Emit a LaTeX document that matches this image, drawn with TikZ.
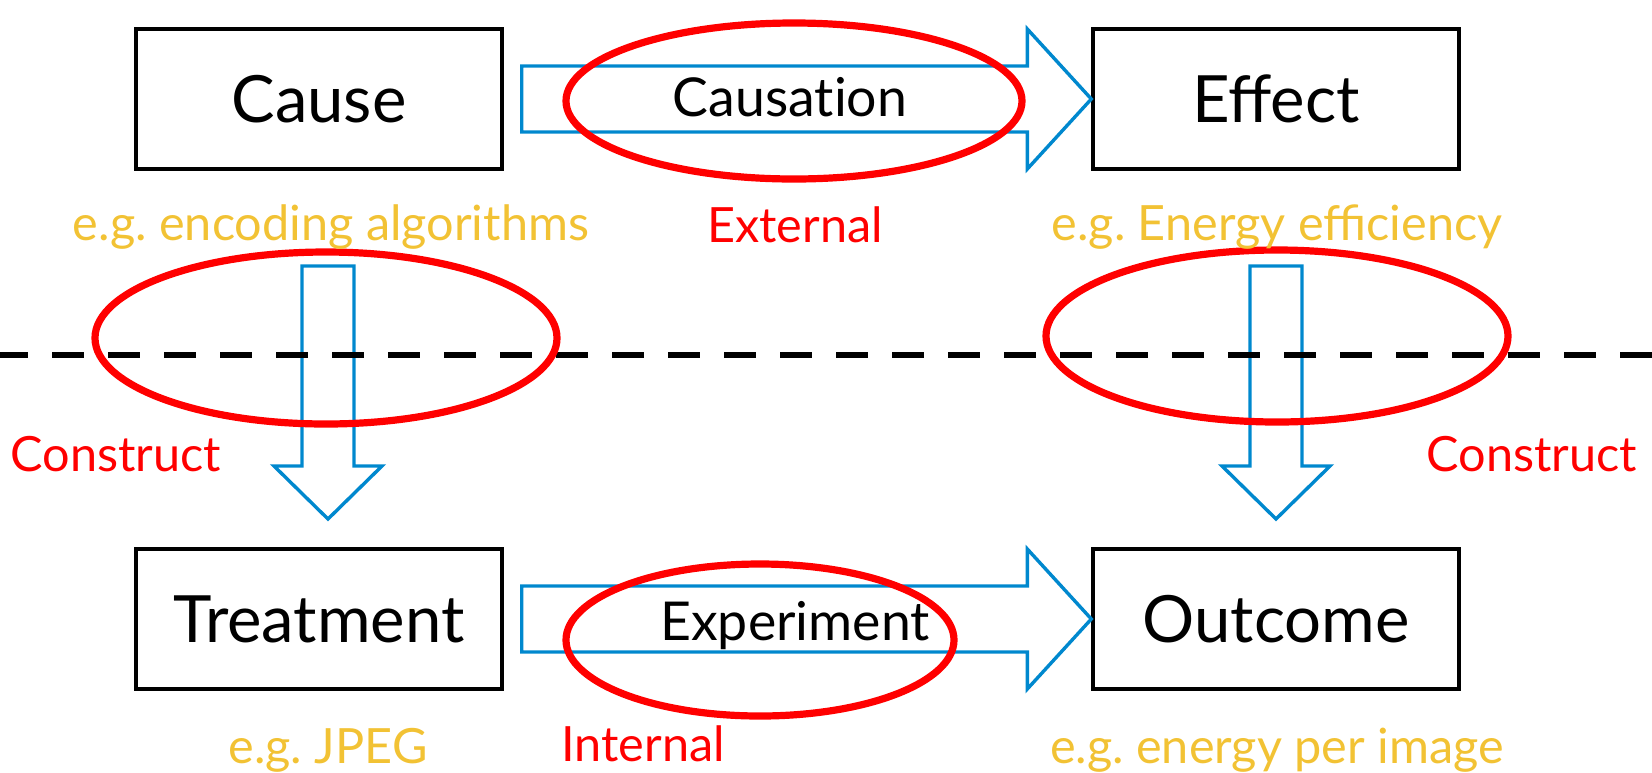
\documentclass[tikz,border=0pt]{standalone}
\usepackage{fontspec}
\setmainfont{Lato}
\frenchspacing
\usetikzlibrary{calc,shapes.geometric}
\definecolor{arrowblue}{RGB}{0,136,206}
\definecolor{egold}{RGB}{242,194,52}
\definecolor{ered}{RGB}{255,0,0}
\newcommand\hblockarrow[2]{\draw[blockarrow] let \p1=(#1), \p2=(#2) in
  (\x1,\y1+16.5pt) -- (\x2-32pt,\y1+16.5pt) -- (\x2-32pt,\y1+35pt) -- (\x2,\y1)
  -- (\x2-32pt,\y1-35pt) -- (\x2-32pt,\y1-16.5pt) -- (\x1,\y1-16.5pt) -- cycle;}
\newcommand\vblockarrow[2]{\draw[blockarrow] let \p1=(#1), \p2=(#2) in
  (\x1-13pt,\y1) -- (\x1+13pt,\y1) -- (\x1+13pt,\y2+26.5pt) -- (\x1+27pt,\y2+26.5pt)
  -- (\x1,\y2) -- (\x1-27pt,\y2+26.5pt) -- (\x1-13pt,\y2+26.5pt) -- cycle;}
\begin{document}
\begin{tikzpicture}[x=0.5pt,y=-0.5pt,
  box/.style={draw=black, line width=1.7pt, minimum width=183pt, minimum height=70pt,
    inner sep=0pt, font=\fontsize{32.6}{37}\selectfont},
  eg/.style={text=egold, inner sep=0pt, anchor=base, font=\fontsize{24.3}{29}\selectfont},
  validity/.style={text=ered, inner sep=0pt, anchor=base, font=\fontsize{24.3}{29}\selectfont},
  arrowtext/.style={text=black, inner sep=0pt, anchor=base, font=\fontsize{26.8}{31}\selectfont},
  blockarrow/.style={draw=arrowblue, line width=1.7pt, line join=miter},
  ring/.style={draw=ered, line width=3.6pt, ellipse, inner sep=0pt},
  divider/.style={draw=black, line width=3pt, dash pattern=on 16pt off 12pt},
]
\useasboundingbox (0,0) rectangle (1652,772);

% boxes
\node[box] (cause)   at (319,99)  {Cause};
\node[box] (effect)  at (1276,99) {Effect};
\node[box] (treat)   at (319,619) {Treatment};
\node[box] (outcome) at (1276,619) {Outcome};

% arrow end points
\coordinate (h1s) at ($(cause.east)+(18,0)$);
\coordinate (h2s) at ($(treat.east)+(18,0)$);
\coordinate (d1s) at (328,266);
\coordinate (d1e) at (328,519);
\coordinate (d2s) at (1276,266);
\coordinate (d2e) at (1276,519);

% block arrows
\hblockarrow{h1s}{effect.west}
\hblockarrow{h2s}{outcome.west}
\vblockarrow{d1s}{d1e}
\vblockarrow{d2s}{d2e}

% divider
\coordinate (divl) at (-4,355);
\coordinate (divr) at (1660,355);
\draw[divider] (divl) -- (divr);

% ellipses
\node[ring, minimum width=228pt, minimum height=78pt] (ext) at (794,101) {};
\node[ring, minimum width=231pt, minimum height=86pt] (conl) at (326,338) {};
\node[ring, minimum width=231pt, minimum height=86pt] (conr) at (1277,336) {};
\node[ring, minimum width=194pt, minimum height=76pt] (int) at (760,640) {};

% arrow texts
\node[arrowtext] (causation) at (790,116) {Causat\kern0pt ion};
\node[arrowtext] (experiment) at (795,640) {Experiment};

% example labels
\node[eg] (eg1) at (331,240) {e.g. encoding algorithms};
\node[eg] (eg2) at (1277,240) {e.g. Energy efficiency};
\node[eg] (eg3) at (328,763) {e.g. JPEG};
\node[eg] (eg4) at (1277,763) {e.g. energy per image};

% validity labels
\node[validity] (lext) at (795,242) {External};
\node[validity] (lconl) at (116,471) {Construct};
\node[validity] (lconr) at (1532,471) {Construct};
\node[validity] (lint) at (643,761) {Internal};
\end{tikzpicture}
\end{document}
